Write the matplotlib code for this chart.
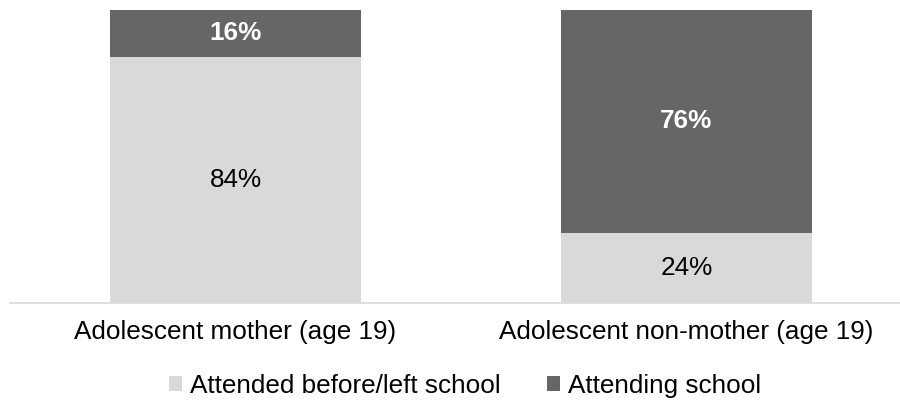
import numpy as np
import matplotlib
matplotlib.use("Agg")
import matplotlib.pyplot as plt

plt.rcParams['font.family'] = ['Liberation Sans', 'DejaVu Sans']

categories = ["Adolescent mother (age 19)", "Adolescent non-mother (age 19)"]
left_school = [84, 24]
attending = [16, 76]
series_names = ["Attended before/left school", "Attending school"]

light = '#D9D9D9'
dark = '#666666'
fs = 18.8

fig = plt.figure(figsize=(9, 4.03), dpi=100)
# axes placed to match the plot area of the reference
ax = fig.add_axes([10 / 900, 100 / 403, 890 / 900, 293 / 403])

ind = np.arange(len(categories))
width = 0.5565

b1 = ax.bar(ind, left_school, width, color=light, label=series_names[0])
b2 = ax.bar(ind, attending, width, bottom=left_school, color=dark, label=series_names[1])

for i in ind:
    ax.text(i, left_school[i] / 2, "%d%%" % left_school[i], ha='center', va='center',
            fontsize=fs, color='black')
    ax.text(i, left_school[i] + attending[i] / 2, "%d%%" % attending[i], ha='center',
            va='center', fontsize=fs, color='white', fontweight='bold')

ax.set_xlim(-0.5, 1.4734)
ax.set_ylim(0, 100)
ax.set_yticks([])
ax.set_xticks(ind)
ax.set_xticklabels(categories, fontsize=fs)
ax.tick_params(axis='x', length=0, pad=12)
for side in ['left', 'right', 'top']:
    ax.spines[side].set_visible(False)
ax.spines['bottom'].set_color(light)
ax.spines['bottom'].set_linewidth(1.2)

fig.legend(handles=[b1, b2], loc='center', bbox_to_anchor=(465 / 900, 1 - 386 / 403), ncol=2,
           frameon=False, fontsize=fs, handlelength=0.5, handleheight=0.5,
           handletextpad=0.3, columnspacing=1.8, borderpad=0, borderaxespad=0)

fig.savefig("out.png", dpi=100, facecolor='white')
